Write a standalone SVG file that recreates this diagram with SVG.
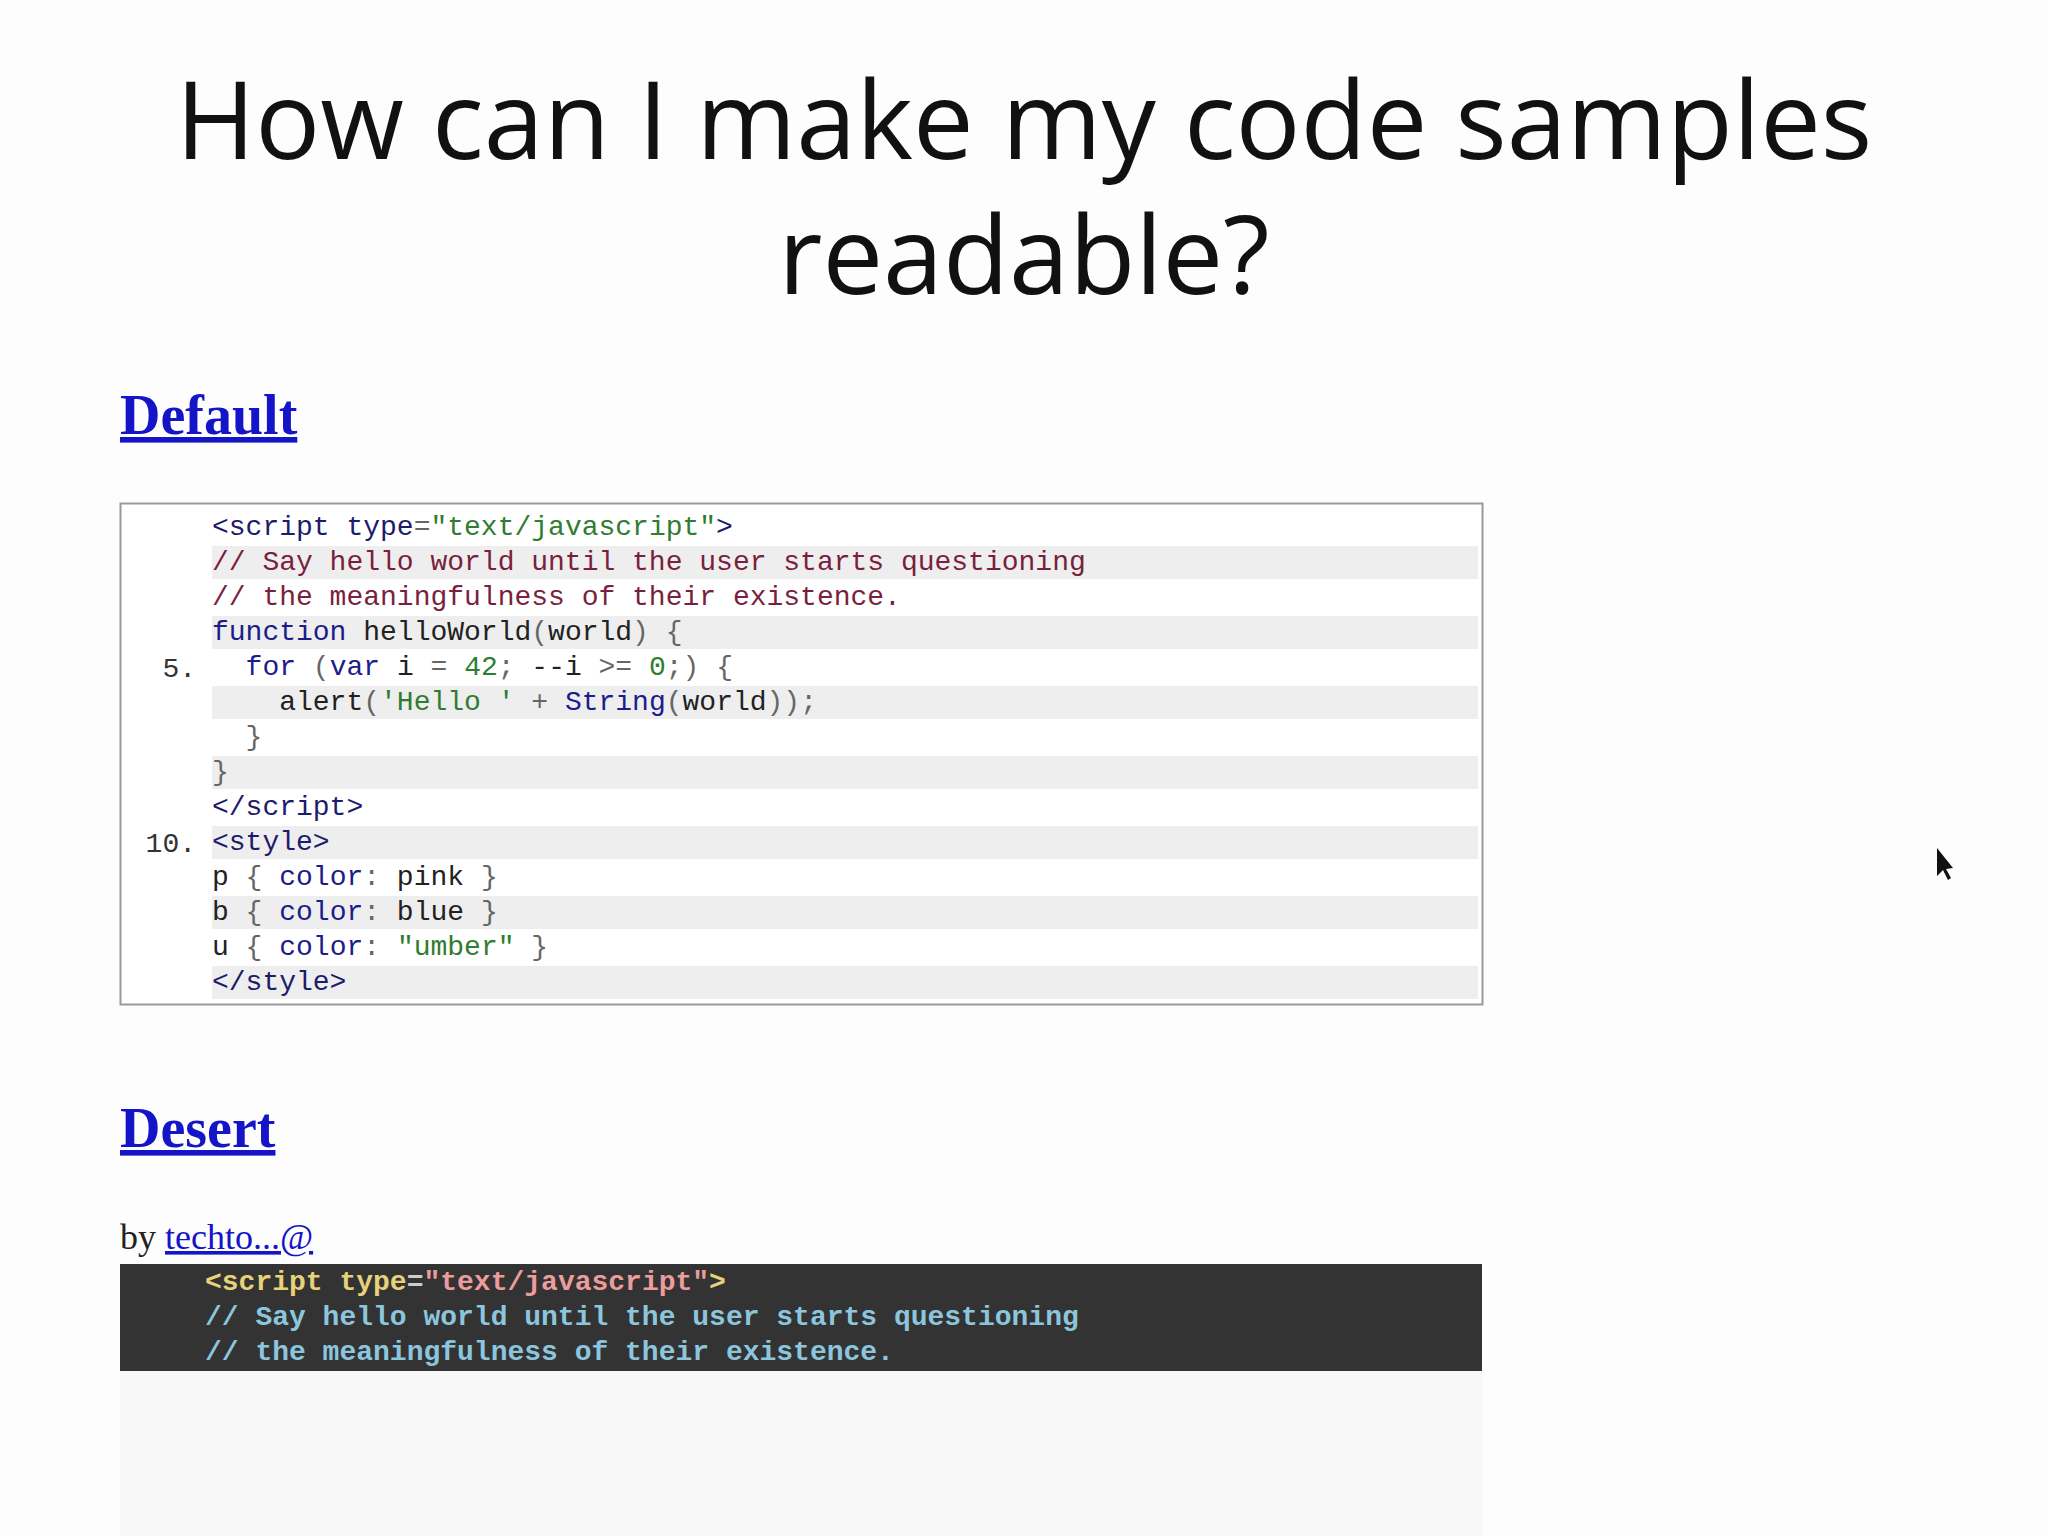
<svg xmlns="http://www.w3.org/2000/svg" width="2048" height="1536" viewBox="0 0 2048 1536">
<style>
.title{font-family:"Open Sans","Liberation Sans",sans-serif;font-size:108px;fill:#111;text-anchor:middle}
.hdr{font-family:"Liberation Serif",serif;font-weight:bold;font-size:56px;fill:#1515c8;text-decoration:underline}
.code{font-family:"Liberation Mono",monospace;font-size:28px;fill:#222;white-space:pre}
.num{font-family:"Liberation Mono",monospace;font-size:28px;fill:#333;text-anchor:end}
.tag{fill:#1c1c6a}.str{fill:#2f7d2f}.cm{fill:#7a1f3d}.kw{fill:#1c1c8a}.pn{fill:#666}
.dk{font-family:"Liberation Mono",monospace;font-size:28px;font-weight:bold;white-space:pre}
</style>
<rect width="2048" height="1536" fill="#fdfdfd"/>
<rect x="120" y="1371" width="1362" height="165" fill="#f8f8f8"/>
<g id="title">
<text class="title" x="1024" y="159">How can I make my code samples</text>
<text class="title" x="1024" y="294">readable?</text>
</g>
<g id="default">
<text class="hdr" x="120" y="434">Default</text>
<rect x="120.5" y="503.5" width="1362" height="501" fill="#fff" stroke="#999" stroke-width="2"/>
<g fill="#eeeeee">
<rect x="212" y="546" width="1266" height="33"/>
<rect x="212" y="616" width="1266" height="33"/>
<rect x="212" y="686" width="1266" height="33"/>
<rect x="212" y="756" width="1266" height="33"/>
<rect x="212" y="826" width="1266" height="33"/>
<rect x="212" y="896" width="1266" height="33"/>
<rect x="212" y="966" width="1266" height="33"/>
</g>
<text class="num" x="196" y="677">5.</text>
<text class="num" x="196" y="852">10.</text>
<text class="code" x="212" y="535"><tspan class="tag">&lt;script type</tspan><tspan class="pn">=</tspan><tspan class="str">"text/javascript"</tspan><tspan class="tag">&gt;</tspan></text>
<text class="code cm" x="212" y="570">// Say hello world until the user starts questioning</text>
<text class="code cm" x="212" y="605">// the meaningfulness of their existence.</text>
<text class="code" x="212" y="640"><tspan class="kw">function</tspan> helloWorld<tspan class="pn">(</tspan>world<tspan class="pn">) {</tspan></text>
<text class="code" x="212" y="675">  <tspan class="kw">for</tspan> <tspan class="pn">(</tspan><tspan class="kw">var</tspan> i <tspan class="pn">=</tspan> <tspan class="str">42</tspan><tspan class="pn">;</tspan> --i <tspan class="pn">&gt;=</tspan> <tspan class="str">0</tspan><tspan class="pn">;) {</tspan></text>
<text class="code" x="212" y="710">    alert<tspan class="pn">(</tspan><tspan class="str">'Hello '</tspan> <tspan class="pn">+</tspan> <tspan class="kw">String</tspan><tspan class="pn">(</tspan>world<tspan class="pn">));</tspan></text>
<text class="code pn" x="212" y="745">  }</text>
<text class="code pn" x="212" y="780">}</text>
<text class="code tag" x="212" y="815">&lt;/script&gt;</text>
<text class="code tag" x="212" y="850">&lt;style&gt;</text>
<text class="code" x="212" y="885">p <tspan class="pn">{</tspan> <tspan class="kw">color</tspan><tspan class="pn">:</tspan> pink <tspan class="pn">}</tspan></text>
<text class="code" x="212" y="920">b <tspan class="pn">{</tspan> <tspan class="kw">color</tspan><tspan class="pn">:</tspan> blue <tspan class="pn">}</tspan></text>
<text class="code" x="212" y="955">u <tspan class="pn">{</tspan> <tspan class="kw">color</tspan><tspan class="pn">:</tspan> <tspan class="str">"umber"</tspan> <tspan class="pn">}</tspan></text>
<text class="code tag" x="212" y="990">&lt;/style&gt;</text>
</g>
<g id="desert">
<text class="hdr" x="120" y="1147">Desert</text>
<text x="120" y="1249" font-family="Liberation Serif,serif" font-size="36" fill="#222">by <tspan fill="#1515c8" text-decoration="underline">techto...@</tspan></text>
<rect x="120" y="1264" width="1362" height="107" fill="#333333"/>
<text class="dk" x="205" y="1290"><tspan fill="#e6d27a">&lt;script type</tspan><tspan fill="#ccc">=</tspan><tspan fill="#ec9c9c">"text/javascript"</tspan><tspan fill="#e6d27a">&gt;</tspan></text>
<text class="dk" x="205" y="1325" fill="#8cc6de">// Say hello world until the user starts questioning</text>
<text class="dk" x="205" y="1360" fill="#8cc6de">// the meaningfulness of their existence.</text>
</g>
<g id="cursor">
<path d="M1937 848 L1937 876 L1943 870 L1948 880 L1951 878 L1946 869 L1953 868 Z" fill="#111"/>
</g>
</svg>
